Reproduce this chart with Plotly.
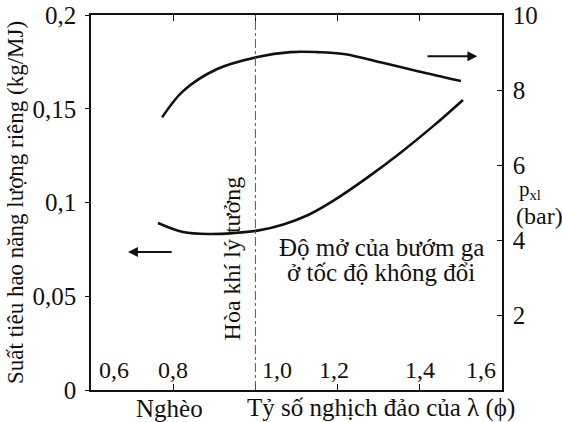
import plotly.graph_objects as go

# Inverse relative air/fuel ratio (phi)
phi_bsfc = [0.763, 0.824, 0.890, 0.946, 1.005, 1.068, 1.127, 1.190, 1.273, 1.354, 1.434, 1.505]
# Brake specific fuel consumption (kg/MJ), left axis
bsfc = [0.0891, 0.0843, 0.0832, 0.0837, 0.0850, 0.0883, 0.0932, 0.1010, 0.1134, 0.1267, 0.1410, 0.1547]

phi_p = [0.773, 0.824, 0.907, 1.005, 1.085, 1.151, 1.215, 1.312, 1.395, 1.500]
# Mean effective pressure p_xl (bar), right axis
p_xl = [7.27, 7.97, 8.56, 8.88, 9.01, 9.01, 8.96, 8.72, 8.50, 8.24]

left_ticks = [0, 0.05, 0.1, 0.15, 0.2]
left_text = ["0", "0,05", "0,1", "0,15", "0,2"]
right_ticks = [2, 4, 6, 8, 10]
right_text = ["2", "4", "6", "8", "10"]
x_ticks = [0.8, 1.0, 1.2, 1.4]
x_labels = [(0.6, "0,6"), (0.8, "0,8"), (1.0, "1,0"), (1.2, "1,2"), (1.4, "1,4"), (1.6, "1,6")]

FONT = "Liberation Serif"
INK = "#111111"

# plot-area geometry in pixels, used to place the free-standing titles
L, R, T, B = 91, 502, 15, 390


def px(x):
    return (x - L) / (R - L)


def py(y):
    return (B - y) / (B - T)


fig = go.Figure()
fig.add_trace(go.Scatter(x=phi_bsfc, y=bsfc, mode="lines", line=dict(color=INK, width=2.6, shape="spline"),
                         yaxis="y", showlegend=False, hoverinfo="skip"))
fig.add_trace(go.Scatter(x=phi_p, y=p_xl, mode="lines", line=dict(color=INK, width=2.6, shape="spline"),
                         yaxis="y2", showlegend=False, hoverinfo="skip"))

# stoichiometric mixture line
fig.add_shape(type="line", x0=1.0, x1=1.0, y0=0, y1=0.2, xref="x", yref="y",
              line=dict(color="#555555", width=1, dash="dashdot"))

annotations = []
# x tick labels drawn inside the frame
shifts = {0.6: ("left", 6), 0.8: ("center", 0), 1.0: ("left", 5), 1.2: ("center", -4),
          1.4: ("center", 0), 1.6: ("right", -4)}
for xv, txt in x_labels:
    anc, sh = shifts[xv]
    annotations.append(dict(x=xv, y=0.0107, xref="x", yref="y", text=txt, showarrow=False,
                            xanchor=anc, xshift=sh, font=dict(family=FONT, size=24, color=INK)))

# arrows pointing to each curve's axis
annotations.append(dict(x=1.54, y=8.9, xref="x", yref="y2", ax=1.415, ay=8.9, axref="x", ayref="y2",
                        text="", showarrow=True, arrowhead=2, arrowsize=1.1, arrowwidth=1.8, arrowcolor=INK))
annotations.append(dict(x=0.69, y=0.0736, xref="x", yref="y", ax=0.80, ay=0.0736, axref="x", ayref="y",
                        text="", showarrow=True, arrowhead=2, arrowsize=1.1, arrowwidth=1.8, arrowcolor=INK))

annotations.append(dict(x=0.944, y=0.0704, xref="x", yref="y", text="Hòa khí lý tưởng", textangle=-90,
                        xanchor="center", yanchor="middle",
                        showarrow=False, font=dict(family=FONT, size=24, color=INK)))
# two-line note, lines placed separately for tight leading
annotations.append(dict(x=px(381), y=py(247), xref="paper", yref="paper",
                        text="Độ mở của bướm ga", showarrow=False,
                        xanchor="center", yanchor="middle",
                        font=dict(family=FONT, size=25, color=INK)))
annotations.append(dict(x=px(381), y=py(272), xref="paper", yref="paper",
                        text="ở tốc độ không đổi", showarrow=False,
                        xanchor="center", yanchor="middle",
                        font=dict(family=FONT, size=25, color=INK)))

# axis titles and units
annotations.append(dict(x=px(15), y=py(203), xref="paper", yref="paper",
                        text="Suất tiêu hao năng lượng riêng (kg/MJ)", textangle=-90,
                        xanchor="center", yanchor="middle",
                        showarrow=False, font=dict(family=FONT, size=23, color=INK)))
annotations.append(dict(x=px(169), y=py(408), xref="paper", yref="paper", text="Nghèo",
                        xanchor="center", yanchor="middle",
                        showarrow=False, font=dict(family=FONT, size=25, color=INK)))
annotations.append(dict(x=px(381), y=py(408), xref="paper", yref="paper",
                        text="Tỷ số nghịch đảo của λ (ϕ)", showarrow=False,
                        xanchor="center", yanchor="middle",
                        font=dict(family=FONT, size=25, color=INK)))
annotations.append(dict(x=px(530), y=py(190), xref="paper", yref="paper",
                        text="p<sub>xl</sub>", showarrow=False, xanchor="center", yanchor="middle",
                        font=dict(family=FONT, size=21, color=INK)))
annotations.append(dict(x=px(539), y=py(216), xref="paper", yref="paper",
                        text="(bar)", showarrow=False, xanchor="center", yanchor="middle",
                        font=dict(family=FONT, size=24, color=INK)))

fig.update_layout(
    width=562, height=422,
    margin=dict(l=L, r=562 - R, t=T, b=422 - B, autoexpand=False),
    paper_bgcolor="white", plot_bgcolor="white",
    font=dict(family=FONT, size=24, color=INK),
    annotations=annotations,
    xaxis=dict(range=[0.6, 1.6], tickvals=x_ticks, showticklabels=False, ticks="inside", ticklen=6,
               tickcolor=INK, showline=True, linecolor=INK, linewidth=1.5, mirror="ticks",
               showgrid=False, zeroline=False, automargin=False),
    yaxis=dict(range=[0, 0.2], tickvals=left_ticks, ticktext=left_text, ticks="outside", ticklen=4,
               tickcolor=INK, showline=True, linecolor=INK, linewidth=1.5, mirror=True,
               showgrid=False, zeroline=False, ticklabelstandoff=4, automargin=False,
               tickfont=dict(family=FONT, size=25, color=INK)),
    yaxis2=dict(range=[0, 10], tickvals=right_ticks, ticktext=right_text, overlaying="y", side="right",
                ticks="inside", ticklen=5, tickcolor=INK, showline=True, linecolor=INK, linewidth=1.5,
                showgrid=False, zeroline=False, ticklabelstandoff=4, automargin=False,
                tickfont=dict(family=FONT, size=25, color=INK)),
)

fig.write_html("out.html")
